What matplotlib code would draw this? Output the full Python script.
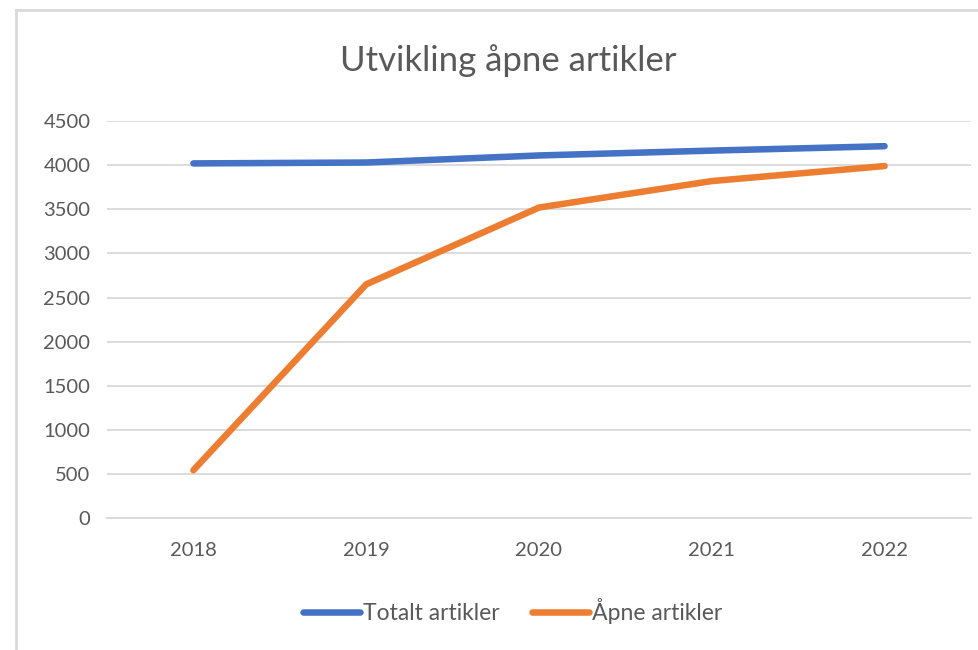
import matplotlib.pyplot as plt

# data
years = ["2018", "2019", "2020", "2021", "2022"]
totalt = [4020, 4030, 4110, 4165, 4215]
apne = [545, 2650, 3520, 3820, 3990]

plt.rcParams['font.family'] = ['Lato', 'DejaVu Sans']
text_col = "#595959"
grid_col = "#d9d9d9"

fig = plt.figure(figsize=(9.79, 6.5), dpi=100)
ax = fig.add_axes([0.1093, 0.2026, 0.8825, 0.6112])

x = range(len(years))
ax.plot(x, totalt, color="#4472c4", linewidth=4.7, solid_capstyle="round",
        solid_joinstyle="round", label="Totalt artikler")
ax.plot(x, apne, color="#ed7d31", linewidth=4.7, solid_capstyle="round",
        solid_joinstyle="round", label="Åpne artikler")

ax.set_xlim(-0.5, 4.5)
ax.set_ylim(0, 4500)
ax.set_yticks(range(0, 4501, 500))
ax.set_xticks(list(x))
ax.set_xticklabels(years)
ax.tick_params(axis="both", length=0, labelsize=14.5, labelcolor=text_col)
ax.tick_params(axis="x", pad=17)
ax.tick_params(axis="y", pad=12)
ax.grid(axis="y", color=grid_col, linewidth=1.3)
ax.set_axisbelow(True)
for side in ["top", "right", "left"]:
    ax.spines[side].set_visible(False)
ax.spines["bottom"].set_color(grid_col)
ax.spines["bottom"].set_linewidth(1.3)

fig.text(0.5195, 0.907, "Utvikling åpne artikler", ha="center", va="center",
         fontsize=25, color=text_col)

leg = fig.legend(loc="center", bbox_to_anchor=(0.5235, 0.06), ncol=2, frameon=False,
                 fontsize=16.5, handlelength=2.5, handletextpad=0.12, columnspacing=1.4)
for t in leg.get_texts():
    t.set_color(text_col)

# chart frame (only top and left edges visible in the screenshot)
fig.add_artist(plt.Line2D([16 / 979, 1], [1 - 10 / 650, 1 - 10 / 650],
                          transform=fig.transFigure, color=grid_col, linewidth=2))
fig.add_artist(plt.Line2D([16 / 979, 16 / 979], [0, 1 - 10 / 650],
                          transform=fig.transFigure, color=grid_col, linewidth=2))

fig.savefig("out.png", dpi=100)
